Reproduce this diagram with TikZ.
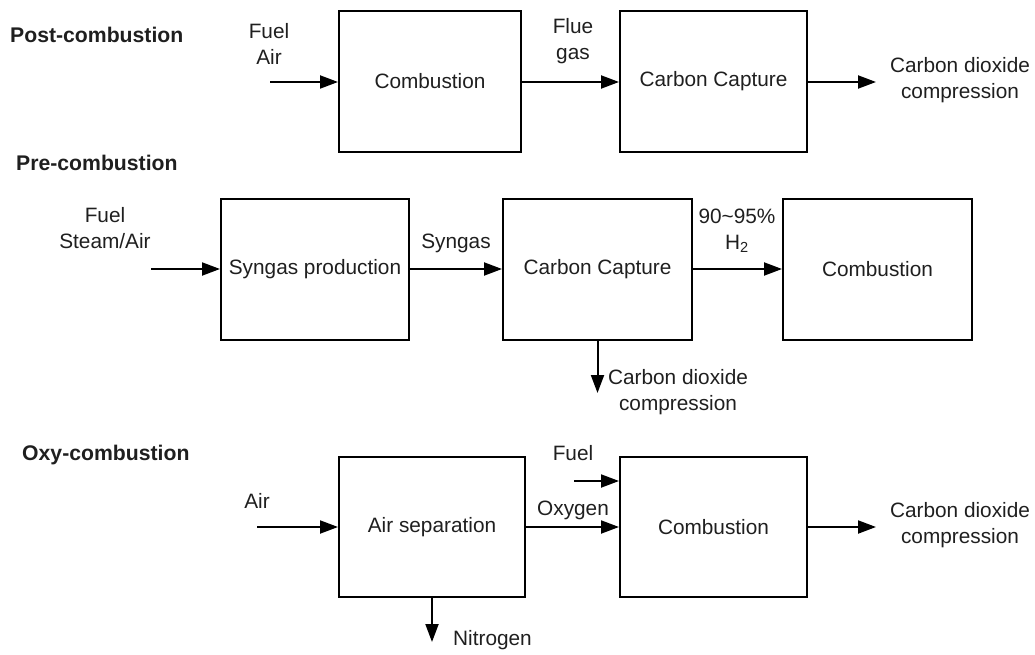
\documentclass[tikz,border=0pt]{standalone}
\usepackage{fontspec}
\setmainfont{Liberation Sans}
\usetikzlibrary{arrows.meta}
\begin{document}
\begin{tikzpicture}[x=1pt,y=-1pt,
  every node/.style={font=\fontsize{20.8}{26}\selectfont, text=black!88, inner sep=0pt},
  stage/.style={draw=black, line width=2pt, rectangle, minimum height=141pt, align=center},
  lbl/.style={align=center},
  heading/.style={anchor=west, font=\fontsize{21.2}{26}\selectfont\bfseries},
  flow/.style={draw=black, line width=2pt, -{Triangle[length=18pt,width=13pt]}}]
\useasboundingbox (0,0) rectangle (1035,655);

% ---- Post-combustion ----
\node[heading] (hpost) at (10,35) {Post-combustion};
\node[stage, minimum width=182pt] (comb1) at (430,81.5) {Combustion};
\node[stage, minimum width=187pt] (cc1) at (713.5,81.5) {Carbon Capture};
\node[lbl] (fa1) at (269,44) {Fuel\\Air};
\node[lbl] (flue1) at (573,41) {Flue\\gas};
\node[lbl] (co2a) at (960,80.5) {Carbon dioxide\\compression};
\coordinate (in1) at (270,82);
\coordinate (out1) at (876,82);
\draw[flow] (in1) -- (in1 -| comb1.west);
\draw[flow] (in1 -| comb1.east) -- (in1 -| cc1.west);
\draw[flow] (in1 -| cc1.east) -- (out1);

% ---- Pre-combustion ----
\node[heading] (hpre) at (16,163) {Pre-combustion};
\node[stage, minimum width=188pt] (syn2) at (315,269.5) {Syngas production};
\node[stage, minimum width=189pt] (cc2) at (597.5,269.5) {Carbon Capture};
\node[stage, minimum width=189pt] (comb2) at (877.5,269.5) {Combustion};
\node[lbl] (fs2) at (105,228) {Fuel\\Steam/Air};
\node[lbl] (syngas2) at (456,243) {Syngas};
\node[lbl] (h2) at (737,231) {90\textasciitilde 95\%\\H\textsubscript{2}};
\node[lbl] (co2b) at (678,392.5) {Carbon dioxide\\compression};
\coordinate (in2) at (151,269);
\coordinate (dn2) at (597.5,393);
\draw[flow] (in2) -- (in2 -| syn2.west);
\draw[flow] (in2 -| syn2.east) -- (in2 -| cc2.west);
\draw[flow] (in2 -| cc2.east) -- (in2 -| comb2.west);
\draw[flow] (cc2.south) -- (dn2);

% ---- Oxy-combustion ----
\node[heading] (hoxy) at (22,455) {Oxy-combustion};
\node[stage, minimum width=186pt, minimum height=140pt] (asep3) at (432,527) {Air separation};
\node[stage, minimum width=187pt, minimum height=140pt] (comb3) at (713.5,527) {Combustion};
\node[lbl] (air3) at (257,501) {Air};
\node[lbl] (fuel3) at (573,453) {Fuel};
\node[lbl] (oxy3) at (573,510) {Oxygen};
\node[anchor=west] (nitro3) at (453,640) {Nitrogen};
\node[lbl] (co2c) at (960,525) {Carbon dioxide\\compression};
\coordinate (in3) at (257,527);
\coordinate (f3) at (574,481);
\coordinate (out3) at (876,527);
\coordinate (dn3) at (432,642);
\draw[flow] (in3) -- (in3 -| asep3.west);
\draw[flow] (in3 -| asep3.east) -- (in3 -| comb3.west);
\draw[flow] (f3) -- (f3 -| comb3.west);
\draw[flow] (in3 -| comb3.east) -- (out3);
\draw[flow] (asep3.south) -- (dn3);
\end{tikzpicture}
\end{document}
